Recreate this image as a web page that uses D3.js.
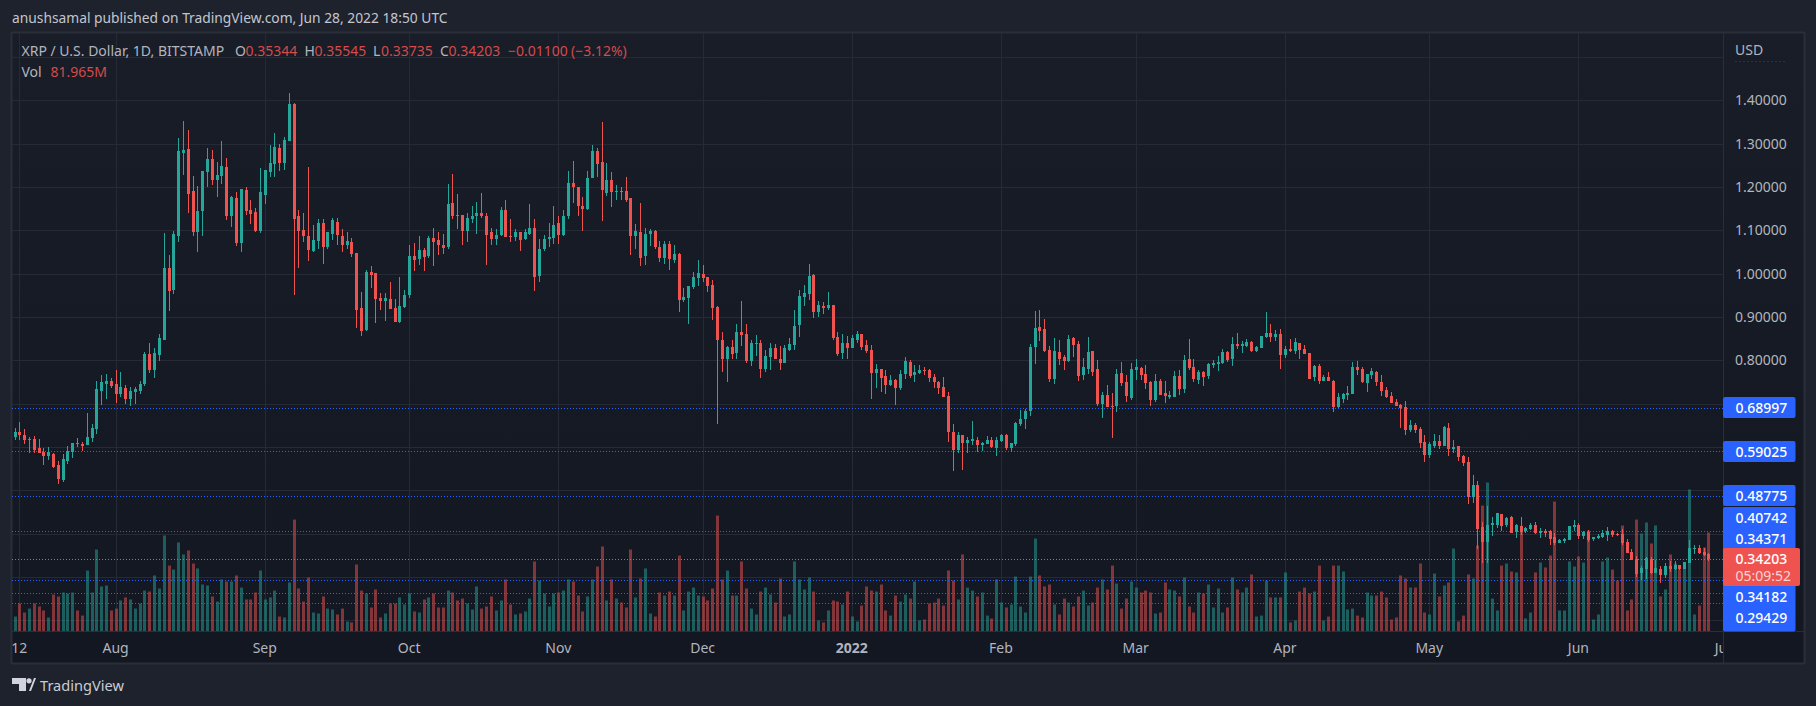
<!DOCTYPE html>
<html>
<head>
<meta charset="utf-8">
<script src="https://cdn.jsdelivr.net/npm/d3@7"></script>
<style>
    html, body { margin: 0; padding: 0; background: #1e222d; overflow: hidden; }
    svg { display: block; }
</style>
</head>
<body>
<script>
(function() {
    "use strict";

    //daily candles, one entry per day starting from this date
    var START_DATE = "2021-07-11";

    var opens = [
        .623,.635,.628,.616,.618,.597,.588,.579,.584,.558,
        .523,.567,.588,.609,.607,.604,.621,.642,.730,.746,
        .753,.746,.723,.736,.711,.727,.730,.746,.815,.778,
        .813,.848,1.012,.963,1.088,1.278,1.287,1.190,1.095,1.144,
        1.234,1.264,1.216,1.225,1.246,1.134,1.174,1.070,1.192,1.148,
        1.142,1.098,1.181,1.234,1.253,1.290,1.255,1.306,1.392,1.132,
        1.100,1.088,1.053,1.076,1.118,1.062,1.092,1.120,1.088,1.065,
        1.074,1.048,.921,.870,1.004,1.002,.944,.937,.942,.921,
        .889,.923,.951,1.041,1.034,1.055,1.041,1.083,1.078,1.067,
        1.062,1.162,1.136,1.136,1.099,1.125,1.132,1.141,1.134,1.095,
        1.081,1.090,1.146,1.088,1.085,1.095,1.081,1.092,1.106,.995,
        1.058,1.081,1.083,1.116,1.090,1.134,1.210,1.201,1.157,1.150,
        1.220,1.282,1.257,1.185,1.216,1.188,1.190,1.190,1.174,1.088,
        1.095,1.040,1.091,1.098,1.061,1.036,1.068,1.031,1.045,.939,
        .943,.969,.990,.999,.992,.973,.923,.848,.804,.830,
        .816,.865,.860,.798,.839,.839,.781,.807,.828,.804,
        .795,.825,.835,.881,.946,.953,.997,.911,.925,.920,
        .927,.853,.816,.839,.828,.848,.860,.835,.823,.770,
        .779,.765,.742,.754,.736,.769,.797,.766,.771,.778,
        .778,.762,.750,.739,.718,.635,.593,.628,.609,.614,
        .616,.604,.607,.616,.598,.614,.628,.598,.607,.653,
        .665,.683,.831,.878,.873,.824,.757,.820,.808,.799,
        .852,.838,.766,.780,.822,.780,.699,.720,.695,.695,
        .771,.750,.713,.778,.783,.769,.750,.709,.753,.725,
        .716,.716,.764,.734,.804,.785,.755,.773,.764,.790,
        .792,.794,.820,.804,.838,.834,.834,.843,.822,.829,
        .855,.864,.855,.861,.813,.827,.822,.841,.827,.817,
        .762,.787,.753,.762,.753,.692,.711,.720,.723,.785,
        .780,.748,.766,.773,.750,.732,.718,.704,.697,.692,
        .639,.651,.642,.611,.581,.602,.614,.602,.644,.596,
        .603,.580,.566,.485,.513,.416,.381,.420,.420,.446,
        .420,.439,.404,.418,.406,.411,.420,.402,.406,.406,
        .392,.379,.383,.386,.416,.420,.395,.404,.388,.390,
        .392,.397,.406,.399,.399,.381,.358,.342,.309,.318,
        .342,.309,.318,.304,.325,.318,.328,.318,.332,.365,.367,.358,.35344
    ];

    var highs = [
        .644,.658,.642,.623,.625,.618,.597,.600,.586,.567,
        .584,.602,.609,.621,.611,.678,.653,.753,.767,.769,
        .760,.778,.773,.743,.739,.739,.753,.820,.841,.829,
        .861,1.093,1.044,1.098,1.313,1.352,1.331,1.225,1.202,1.236,
        1.290,1.285,1.257,1.306,1.266,1.179,1.188,1.195,1.199,1.169,
        1.151,1.243,1.239,1.297,1.324,1.299,1.315,1.417,1.394,1.148,
        1.139,1.246,1.113,1.127,1.125,1.097,1.129,1.129,1.102,1.095,
        1.083,1.048,.958,1.009,1.018,1.002,.956,.956,.981,.942,
        .993,.963,1.067,1.071,1.088,1.060,1.088,1.106,1.095,1.092,
        1.208,1.231,1.183,1.136,1.139,1.157,1.166,1.185,1.141,1.106,
        1.102,1.153,1.169,1.127,1.102,1.095,1.104,1.160,1.125,1.081,
        1.090,1.118,1.155,1.134,1.148,1.236,1.259,1.201,1.178,1.238,
        1.298,1.289,1.350,1.255,1.234,1.204,1.199,1.222,1.174,1.114,
        1.162,1.105,1.102,1.100,1.075,1.075,1.075,1.066,1.047,.966,
        .971,1.004,1.031,1.020,.992,.985,.925,.865,.832,.846,
        .885,.936,.883,.846,.858,.846,.823,.841,.837,.832,
        .835,.851,.916,.962,.974,1.022,.999,.936,.934,.957,
        .927,.865,.860,.856,.858,.867,.860,.846,.835,.791,
        .779,.777,.767,.758,.778,.808,.801,.790,.790,.785,
        .780,.769,.753,.762,.727,.653,.635,.628,.623,.660,
        .623,.611,.625,.623,.623,.630,.630,.609,.658,.685,
        .688,.838,.915,.917,.896,.834,.852,.848,.813,.859,
        .855,.845,.806,.855,.822,.801,.727,.743,.725,.780,
        .797,.766,.794,.804,.785,.790,.753,.769,.757,.753,
        .729,.776,.778,.813,.850,.804,.778,.776,.794,.801,
        .811,.827,.822,.855,.864,.845,.850,.845,.834,.857,
        .912,.885,.871,.873,.834,.850,.852,.841,.836,.817,
        .790,.792,.766,.773,.755,.725,.725,.741,.797,.799,
        .785,.769,.783,.776,.766,.739,.727,.711,.699,.706,
        .662,.655,.646,.628,.611,.630,.628,.648,.655,.617,
        .603,.582,.578,.536,.522,.427,.464,.439,.448,.446,
        .439,.441,.423,.439,.416,.425,.427,.413,.411,.409,
        .402,.388,.390,.418,.432,.425,.406,.409,.392,.399,
        .409,.416,.409,.402,.411,.388,.365,.348,.325,.346,
        .346,.339,.325,.332,.337,.337,.328,.335,.385,.374,.374,.367,.35545
    ];

    var lows = [
        .616,.616,.607,.587,.586,.586,.558,.570,.551,.514,
        .519,.561,.574,.600,.591,.604,.611,.630,.697,.711,
        .736,.702,.716,.699,.695,.699,.723,.741,.771,.760,
        .799,.848,.915,.952,1.072,1.227,1.139,1.086,1.051,1.088,
        1.199,1.204,1.176,1.206,1.123,1.107,1.063,1.051,1.135,1.114,
        1.095,1.093,1.160,1.223,1.223,1.236,1.239,1.306,.950,1.014,
        1.074,1.030,1.051,1.058,1.023,1.058,1.078,1.067,1.051,1.058,
        1.039,.875,.856,.868,.967,.886,.916,.891,.919,.889,
        .886,.921,.944,1.007,1.020,1.007,1.037,1.018,1.044,1.046,
        1.058,1.127,1.102,1.065,1.074,1.118,1.092,1.129,1.021,1.065,
        1.065,1.088,1.085,1.072,1.076,1.053,1.078,1.090,.960,.981,
        1.053,1.062,1.069,1.069,1.086,1.127,1.164,1.134,1.099,1.146,
        1.220,1.224,1.121,1.179,1.153,1.169,1.169,1.165,1.042,1.058,
        1.017,1.019,1.063,1.056,1.027,1.022,1.008,1.024,.911,.934,
        .885,.964,.971,.980,.957,.892,.652,.772,.749,.804,
        .804,.832,.793,.786,.809,.760,.772,.777,.804,.777,
        .793,.821,.825,.853,.925,.939,.897,.899,.906,.916,
        .846,.811,.802,.802,.828,.839,.823,.816,.710,.737,
        .728,.723,.740,.696,.732,.757,.760,.750,.769,.767,
        .750,.736,.723,.716,.611,.544,.586,.547,.586,.604,
        .588,.591,.607,.598,.579,.611,.593,.588,.602,.648,
        .642,.672,.792,.845,.820,.750,.746,.790,.778,.797,
        .808,.753,.755,.769,.764,.695,.667,.692,.621,.681,
        .741,.704,.709,.755,.755,.734,.695,.704,.720,.702,
        .711,.716,.720,.725,.778,.750,.746,.741,.757,.783,
        .776,.792,.797,.787,.827,.817,.831,.820,.820,.829,
        .852,.843,.845,.780,.806,.820,.815,.804,.815,.757,
        .753,.746,.753,.753,.681,.690,.702,.709,.723,.766,
        .748,.727,.757,.741,.718,.713,.702,.695,.644,.628,
        .634,.632,.598,.565,.574,.598,.595,.602,.579,.587,
        .568,.557,.469,.471,.365,.332,.332,.395,.413,.406,
        .416,.402,.390,.397,.402,.409,.399,.390,.392,.374,
        .374,.379,.379,.386,.406,.388,.388,.381,.383,.388,
        .390,.383,.392,.395,.374,.355,.339,.300,.293,.295,
        .307,.309,.286,.298,.311,.316,.316,.318,.332,.353,.353,.349,.33735
    ];

    var closes = [
        .635,.628,.616,.618,.593,.586,.579,.588,.554,.526,
        .572,.591,.609,.607,.602,.623,.644,.734,.750,.753,
        .741,.723,.739,.711,.730,.734,.746,.815,.778,.818,
        .852,1.012,.961,1.091,1.283,1.285,1.183,1.095,1.144,1.236,
        1.264,1.216,1.227,1.248,1.132,1.176,1.070,1.195,1.144,1.137,
        1.098,1.188,1.239,1.255,1.292,1.255,1.308,1.392,1.125,1.098,
        1.086,1.054,1.078,1.118,1.062,1.097,1.123,1.090,1.065,1.076,
        1.046,.916,.868,1.004,.998,.942,.937,.944,.919,.889,
        .926,.951,1.041,1.032,1.055,1.039,1.083,1.074,1.065,1.060,
        1.160,1.134,1.134,1.099,1.129,1.134,1.141,1.132,1.090,1.081,
        1.090,1.146,1.085,1.085,1.095,1.078,1.095,1.106,.993,1.058,
        1.081,1.085,1.113,1.090,1.134,1.210,1.199,1.157,1.150,1.220,
        1.282,1.254,1.193,1.216,1.188,1.190,1.188,1.169,1.086,1.098,
        1.037,1.091,1.098,1.061,1.036,1.068,1.034,1.045,.939,.946,
        .971,.992,1.001,.990,.971,.920,.846,.804,.830,.814,
        .865,.858,.798,.839,.841,.779,.811,.828,.804,.795,
        .828,.837,.879,.948,.955,.994,.911,.927,.920,.927,
        .851,.814,.839,.828,.851,.860,.830,.821,.770,.781,
        .760,.742,.754,.737,.769,.799,.764,.773,.778,.776,
        .760,.750,.736,.716,.635,.593,.628,.609,.616,.618,
        .604,.609,.616,.600,.616,.628,.598,.609,.655,.665,
        .683,.831,.875,.868,.822,.757,.822,.804,.799,.850,
        .836,.764,.785,.820,.773,.699,.720,.692,.692,.769,
        .748,.718,.780,.785,.766,.748,.709,.753,.720,.718,
        .720,.764,.734,.801,.783,.757,.773,.762,.792,.794,
        .797,.820,.801,.838,.834,.838,.843,.822,.831,.857,
        .864,.855,.861,.813,.827,.822,.843,.824,.815,.757,
        .787,.753,.762,.753,.692,.716,.723,.725,.785,.778,
        .750,.769,.776,.750,.730,.716,.702,.695,.690,.639,
        .651,.639,.609,.581,.607,.614,.602,.646,.595,.601,
        .578,.564,.485,.513,.411,.381,.420,.425,.448,.418,
        .436,.402,.420,.404,.413,.420,.402,.406,.402,.388,
        .379,.385,.388,.418,.420,.395,.404,.386,.392,.395,
        .402,.406,.397,.397,.379,.355,.339,.307,.321,.344,
        .309,.321,.304,.325,.318,.328,.318,.335,.367,.367,.355,.351,.34203
    ];

    //volume in millions
    var volumes = [
        12.4,23.2,15.7,19.0,23.2,20.7,17.4,11.6,30.6,29.0,
        32.3,31.5,32.3,17.4,13.2,50.5,32.3,67.9,37.3,38.1,
        17.4,19.0,25.7,28.2,26.5,19.0,23.2,33.9,33.1,46.4,
        35.6,79.5,54.6,51.3,73.7,63.8,67.1,56.3,52.2,38.9,
        38.1,29.0,24.8,43.1,41.4,41.4,46.4,36.4,26.5,26.5,
        32.3,50.5,26.5,28.2,33.9,12.4,11.6,40.6,92.7,35.6,
        24.8,44.7,15.7,14.9,29.0,19.0,18.2,14.1,19.0,8.3,
        7.5,55.5,33.9,31.5,19.9,34.8,11.6,14.9,23.2,23.2,
        28.2,22.4,31.5,16.6,15.7,26.5,28.2,31.5,19.9,19.9,
        33.9,32.3,25.7,27.3,23.2,18.2,37.3,19.0,20.7,29.0,
        17.4,25.7,43.1,22.4,14.1,14.9,16.6,27.3,58.0,42.2,
        31.5,20.7,31.5,32.3,33.9,43.1,41.4,29.8,16.6,29.0,
        43.1,53.8,70.4,25.7,43.1,27.3,24.0,19.9,67.9,28.2,
        43.9,52.2,14.9,12.4,32.3,29.8,33.1,29.8,62.9,17.4,
        33.1,36.4,29.8,29.0,25.7,35.6,96.0,43.1,50.5,29.8,
        29.8,58.0,35.6,19.0,14.1,33.1,36.4,30.6,24.0,43.9,
        12.4,14.1,58.0,43.1,34.8,44.7,33.1,9.1,7.5,17.4,
        25.7,24.8,22.4,33.1,12.4,8.3,21.5,37.3,33.9,33.1,
        38.9,17.4,13.2,29.8,24.8,30.6,27.3,41.4,9.1,9.9,
        23.2,24.0,27.3,21.5,50.5,42.2,26.5,63.8,36.4,33.9,
        29.0,32.3,13.2,10.8,43.1,24.0,19.9,22.4,45.5,20.7,
        15.7,45.5,77.0,46.4,37.3,38.9,22.4,14.1,27.3,24.0,
        20.7,29.0,33.9,21.5,24.0,36.4,43.1,34.8,54.6,39.7,
        19.0,27.3,41.4,36.4,32.3,33.9,32.3,14.9,15.7,40.6,
        34.8,33.9,29.0,44.7,20.7,15.7,32.3,31.5,38.9,19.9,
        35.6,15.7,19.9,44.7,34.8,32.3,36.4,47.2,12.4,13.2,
        42.2,28.2,28.2,28.2,48.9,7.5,9.1,33.1,36.4,31.5,
        33.1,54.6,9.1,12.4,54.6,54.6,49.7,18.2,19.0,13.2,
        11.6,32.3,29.8,29.8,33.1,28.2,9.9,11.6,46.4,43.9,
        36.4,36.4,56.3,15.7,14.1,48.0,29.0,38.1,40.6,68.7,
        8.3,13.2,47.2,43.9,71.2,104.3,123.4,27.3,17.4,54.6,
        56.3,49.7,48.9,83.6,10.8,15.7,48.9,57.1,53.0,62.9,
        107.6,17.4,17.4,58.0,53.8,62.1,57.1,83.6,9.9,14.1,
        58.0,61.3,51.3,42.2,87.8,17.4,26.5,92.7,81.1,90.3,
        72.9,87.8,29.0,34.8,63.8,56.3,51.3,53.0,117.6,14.1,21.5,69.6,81.965
    ];

    var priceTicks = [1.5, 1.4, 1.3, 1.2, 1.1, 1.0, 0.9, 0.8, 0.7, 0.6, 0.5, 0.4, 0.3, 0.2];
    var priceTickLabels = [1.4, 1.3, 1.2, 1.1, 1.0, 0.9, 0.8];
    var levelValues = [0.68997, 0.59025, 0.48775, 0.40742, 0.29429, 0.2625, 0.2394];
    var lastPrice = 0.34203;

    var timeTicks = ["2021-07-12", "2021-08-01", "2021-09-01", "2021-10-01", "2021-11-01", "2021-12-01",
        "2022-01-01", "2022-02-01", "2022-03-01", "2022-04-01", "2022-05-01", "2022-06-01", "2022-07-01"];
    var timeLabels = ["12", "Aug", "Sep", "Oct", "Nov", "Dec", "2022", "Feb", "Mar", "Apr", "May", "Jun", "Jul"];

    //labels on the price axis, top to bottom
    var levelLabels = ["0.68997", "0.59025", "0.48775", "0.40742", "0.34371", "0.34182", "0.29429"];
    var levelLabelY = [407.5, 451.5, 495.5, 518, 539, 596.5, 617.5];

    var WIDTH = 1816;
    var HEIGHT = 706;
    var PANE_LEFT = 12;
    var PANE_TOP = 33;
    var PANE_RIGHT = 1723.5;
    var OUTER_RIGHT = 1804;
    var PANE_BOTTOM = 631.5;
    var OUTER_BOTTOM = 663;

    var GREEN = "#26a69a";
    var RED = "#ef5350";
    var BLUE = "#2962ff";
    var TEXT = "#b2b5be";
    var GRID = "#262a36";
    var FONT = "'Noto Sans', sans-serif";

    var parseDay = d3.utcParse("%Y-%m-%d");
    var firstDay = parseDay(START_DATE);

    var candles = closes.map(function(c, i) {
        return {
            date: d3.utcDay.offset(firstDay, i),
            open: opens[i], high: highs[i], low: lows[i], close: c, volume: volumes[i]
        };
    });

    var x = d3.scaleUtc()
        .domain([parseDay("2021-08-01"), parseDay("2022-06-01")])
        .range([115.6, 1578.4]);
    var y = d3.scaleLinear().domain([1.4, 0.2]).range([100.3, 620.4]);
    var yVolume = d3.scaleLinear().domain([0, 160]).range([PANE_BOTTOM, PANE_BOTTOM - 193.2]);

    function color(d) { return d.close >= d.open ? GREEN : RED; }

    var svg = d3.select("body").append("svg")
        .attr("width", WIDTH)
        .attr("height", HEIGHT)
        .style("font-family", FONT);

    var defs = svg.append("defs");
    var gradient = defs.append("linearGradient")
        .attr("id", "paneBg")
        .attr("x1", 0).attr("x2", 0).attr("y1", 0).attr("y2", 1);
    gradient.append("stop").attr("offset", "0%").attr("stop-color", "#191d28");
    gradient.append("stop").attr("offset", "100%").attr("stop-color", "#131722");

    defs.append("clipPath").attr("id", "paneClip").append("rect")
        .attr("x", PANE_LEFT).attr("y", PANE_TOP)
        .attr("width", PANE_RIGHT - PANE_LEFT).attr("height", OUTER_BOTTOM - PANE_TOP);

    //page and chart backgrounds
    svg.append("rect").attr("width", WIDTH).attr("height", HEIGHT).attr("fill", "#1e222d");
    svg.append("rect")
        .attr("x", PANE_LEFT - 0.5).attr("y", PANE_TOP - 0.5)
        .attr("width", OUTER_RIGHT - PANE_LEFT + 1).attr("height", OUTER_BOTTOM - PANE_TOP + 1)
        .attr("fill", "url(#paneBg)")
        .attr("stroke", "#2a2e39")
        .attr("stroke-width", 2);

    var pane = svg.append("g").attr("clip-path", "url(#paneClip)");

    //grid
    pane.append("g").selectAll("line")
        .data(timeTicks)
        .enter()
        .append("line")
        .attr("x1", function(d) { return Math.round(x(parseDay(d))) + 0.5; })
        .attr("x2", function(d) { return Math.round(x(parseDay(d))) + 0.5; })
        .attr("y1", PANE_TOP)
        .attr("y2", PANE_BOTTOM)
        .attr("stroke", GRID);

    pane.append("g").selectAll("line")
        .data(priceTicks)
        .enter()
        .append("line")
        .attr("x1", PANE_LEFT)
        .attr("x2", PANE_RIGHT)
        .attr("y1", function(d) { return Math.round(y(d)) + 0.5; })
        .attr("y2", function(d) { return Math.round(y(d)) + 0.5; })
        .attr("stroke", GRID);

    //volume bars sit under everything else
    pane.append("g").selectAll("rect")
        .data(candles)
        .enter()
        .append("rect")
        .attr("x", function(d) { return Math.round(x(d.date)) - 1; })
        .attr("y", function(d) { return yVolume(d.volume); })
        .attr("width", 3)
        .attr("height", function(d) { return PANE_BOTTOM - yVolume(d.volume); })
        .attr("fill", color)
        .attr("fill-opacity", 0.5);

    //dotted horizontal levels
    pane.append("g").selectAll("line")
        .data(levelValues)
        .enter()
        .append("line")
        .attr("x1", PANE_LEFT)
        .attr("x2", PANE_RIGHT)
        .attr("y1", function(d) { return Math.round(y(d)) + 0.5; })
        .attr("y2", function(d) { return Math.round(y(d)) + 0.5; })
        .attr("stroke", BLUE)
        .attr("stroke-dasharray", "1,2");

    pane.append("line")
        .attr("x1", PANE_LEFT)
        .attr("x2", PANE_RIGHT)
        .attr("y1", Math.round(y(lastPrice)) + 0.5)
        .attr("y2", Math.round(y(lastPrice)) + 0.5)
        .attr("stroke", RED)
        .attr("stroke-dasharray", "1,2");

    //wicks, then bodies on top
    var candleGroup = pane.append("g").attr("shape-rendering", "crispEdges");
    candleGroup.selectAll(".wick")
        .data(candles)
        .enter()
        .append("rect")
        .attr("class", "wick")
        .attr("x", function(d) { return Math.round(x(d.date)); })
        .attr("y", function(d) { return y(d.high); })
        .attr("width", 1)
        .attr("height", function(d) { return y(d.low) - y(d.high); })
        .attr("fill", color);

    candleGroup.selectAll(".body")
        .data(candles)
        .enter()
        .append("rect")
        .attr("class", "body")
        .attr("x", function(d) { return Math.round(x(d.date)) - 1; })
        .attr("y", function(d) { return y(Math.max(d.open, d.close)); })
        .attr("width", 3)
        .attr("height", function(d) { return Math.max(1, Math.abs(y(d.open) - y(d.close))); })
        .attr("fill", color);

    //time axis labels, "Jul" gets cut by the price axis
    pane.append("g").selectAll("text")
        .data(timeTicks)
        .enter()
        .append("text")
        .text(function(d, i) { return timeLabels[i]; })
        .attr("x", function(d) { return x(parseDay(d)); })
        .attr("y", 653)
        .attr("text-anchor", "middle")
        .attr("font-size", 14)
        .attr("font-weight", function(d, i) { return timeLabels[i] === "2022" ? 700 : 400; })
        .attr("fill", TEXT);

    //axis borders
    svg.append("line")
        .attr("x1", PANE_RIGHT).attr("x2", PANE_RIGHT)
        .attr("y1", PANE_TOP).attr("y2", OUTER_BOTTOM)
        .attr("stroke", "#2a2e39");
    svg.append("line")
        .attr("x1", PANE_LEFT).attr("x2", OUTER_RIGHT)
        .attr("y1", PANE_BOTTOM).attr("y2", PANE_BOTTOM)
        .attr("stroke", "#2a2e39");

    //price axis
    svg.append("g").selectAll("text")
        .data(priceTickLabels)
        .enter()
        .append("text")
        .text(function(d) { return d.toFixed(5); })
        .attr("x", 1735)
        .attr("y", function(d) { return y(d) + 5; })
        .attr("font-size", 14)
        .attr("fill", TEXT);

    svg.append("text")
        .text("USD")
        .attr("x", 1735)
        .attr("y", 55)
        .attr("font-size", 14)
        .attr("fill", TEXT);

    svg.append("line")
        .attr("x1", 1735).attr("x2", 1786)
        .attr("y1", 61.5).attr("y2", 61.5)
        .attr("stroke", "#2e323d")
        .attr("stroke-dasharray", "2,2");

    //blue price tags, stacked as they collide
    svg.append("rect")
        .attr("x", 1723).attr("y", 397).attr("width", 72.5).attr("height", 21)
        .attr("rx", 2).attr("fill", BLUE);
    svg.append("rect")
        .attr("x", 1723).attr("y", 441).attr("width", 72.5).attr("height", 21)
        .attr("rx", 2).attr("fill", BLUE);
    svg.append("rect")
        .attr("x", 1723).attr("y", 485).attr("width", 72.5).attr("height", 21)
        .attr("rx", 2).attr("fill", BLUE);
    svg.append("rect")
        .attr("x", 1723).attr("y", 507).attr("width", 72.5).attr("height", 124.5)
        .attr("rx", 2).attr("fill", BLUE);

    svg.append("g").selectAll("text")
        .data(levelLabels)
        .enter()
        .append("text")
        .text(function(d) { return d; })
        .attr("x", 1735.5)
        .attr("y", function(d, i) { return levelLabelY[i] + 5; })
        .attr("font-size", 14)
        .attr("font-weight", 500)
        .attr("fill", "#ffffff");

    //last price tag with the countdown
    svg.append("rect")
        .attr("x", 1723).attr("y", 548).attr("width", 77).attr("height", 38)
        .attr("rx", 2).attr("fill", RED);
    svg.append("text")
        .text(lastPrice.toFixed(5))
        .attr("x", 1735.5).attr("y", 564)
        .attr("font-size", 14).attr("font-weight", 500)
        .attr("fill", "#ffffff");
    svg.append("text")
        .text("05:09:52")
        .attr("x", 1735.5).attr("y", 581)
        .attr("font-size", 14)
        .attr("fill", "#f5d5d8");

    //header
    svg.append("text")
        .text("anushsamal published on TradingView.com, Jun 28, 2022 18:50 UTC")
        .attr("x", 12).attr("y", 23)
        .attr("font-size", 13.8)
        .attr("fill", "#c3c6ce");

    //legend rows, [text, x, y, is value]
    var legend = [
        ["XRP / U.S. Dollar, 1D, BITSTAMP", 21.5, 56, false],
        ["O", 235, 56, false], ["0.35344", 245.5, 56, true],
        ["H", 304.5, 56, false], ["0.35545", 314.5, 56, true],
        ["L", 373, 56, false], ["0.33735", 381, 56, true],
        ["C", 440, 56, false], ["0.34203", 448.5, 56, true],
        ["\u22120.01100", 508, 56, true], ["(\u22123.12%)", 571, 56, true],
        ["Vol", 21.5, 77, false], ["81.965M", 50.5, 77, true]
    ];

    svg.append("g").selectAll("text")
        .data(legend)
        .enter()
        .append("text")
        .text(function(d) { return d[0]; })
        .attr("x", function(d) { return d[1]; })
        .attr("y", function(d) { return d[2]; })
        .attr("font-size", 14)
        .attr("fill", function(d) { return d[3] ? RED : TEXT; })
        .attr("fill-opacity", function(d) { return d[3] ? 0.88 : 1; });

    //TradingView mark and wordmark in the footer
    var logo = svg.append("g").attr("fill", "#d1d4dc");
    logo.append("path").attr("d", "M12 678H26V691H19V684H12Z");
    logo.append("circle").attr("cx", 29).attr("cy", 680.8).attr("r", 2.6);
    logo.append("path").attr("d", "M29 691L34 678H36L31 691Z");
    logo.append("text")
        .text("TradingView")
        .attr("x", 40).attr("y", 690.5)
        .attr("font-size", 14.6)
        .attr("fill", "#c9ccd4");
}());
</script>
</body>
</html>
